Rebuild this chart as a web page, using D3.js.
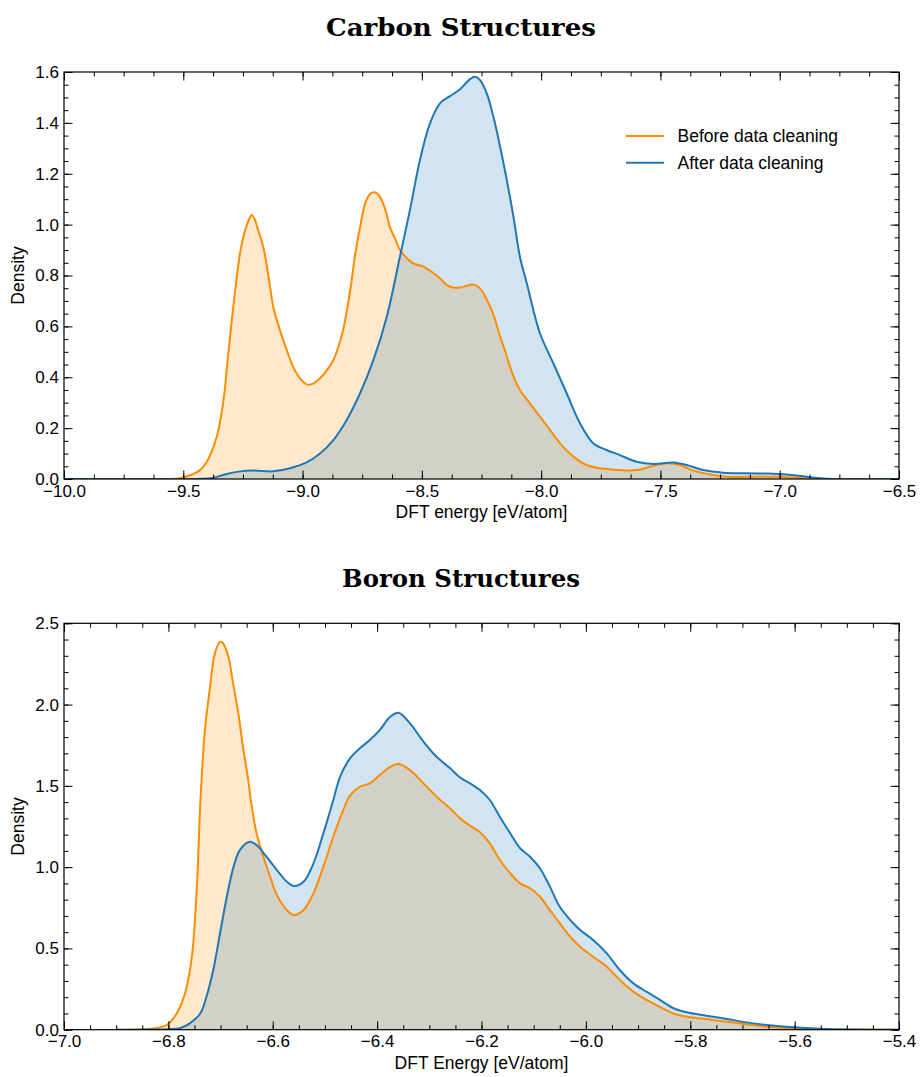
<!DOCTYPE html>
<html><head><meta charset="utf-8">
<script src="https://cdn.jsdelivr.net/npm/d3@7"></script>
<style>body{margin:0;background:#fff}svg{display:block}</style>
</head><body>
<svg id="chart" width="921" height="1077"></svg>
<script>
// ---------------- data ----------------
const seriesNames = ["Before data cleaning", "After data cleaning"];

const carbonBeforeX = [-10, -9.6, -9.52, -9.48, -9.43, -9.4, -9.36, -9.33, -9.317, -9.29, -9.26, -9.24, -9.225, -9.214, -9.2, -9.19, -9.165, -9.14, -9.123, -9.1, -9.081, -9.06, -9.039, -9.01, -8.983, -8.955, -8.927, -8.9, -8.871, -8.85, -8.83, -8.80, -8.78, -8.755, -8.735, -8.715, -8.70, -8.685, -8.668, -8.65, -8.634, -8.61, -8.592, -8.565, -8.536, -8.494, -8.452, -8.42, -8.396, -8.37, -8.34, -8.31, -8.285, -8.265, -8.245, -8.225, -8.2, -8.172, -8.15, -8.13, -8.11, -8.089, -8.047, -8.005, -7.963, -7.921, -7.865, -7.81, -7.753, -7.67, -7.6, -7.544, -7.474, -7.418, -7.362, -7.278, -7.22, -7.08, -6.999, -6.944, -6.873, -6.8, -6.5];
const carbonBeforeY = [0, 0, 0.002, 0.012, 0.035, 0.07, 0.166, 0.32, 0.44, 0.68, 0.9, 0.98, 1.02, 1.038, 1.02, 0.99, 0.913, 0.78, 0.677, 0.6, 0.546, 0.49, 0.44, 0.395, 0.372, 0.375, 0.396, 0.425, 0.468, 0.52, 0.586, 0.743, 0.88, 1.01, 1.09, 1.122, 1.127, 1.12, 1.095, 1.05, 0.99, 0.94, 0.9, 0.87, 0.848, 0.835, 0.81, 0.785, 0.763, 0.753, 0.753, 0.76, 0.765, 0.757, 0.735, 0.7, 0.645, 0.56, 0.5, 0.44, 0.39, 0.35, 0.297, 0.245, 0.193, 0.14, 0.088, 0.055, 0.042, 0.035, 0.035, 0.048, 0.062, 0.055, 0.033, 0.016, 0.009, 0.009, 0.009, 0.006, 0.002, 0, 0];

const carbonAfterX = [-10, -9.45, -9.4, -9.374, -9.318, -9.262, -9.206, -9.123, -9.053, -8.983, -8.927, -8.871, -8.815, -8.759, -8.703, -8.647, -8.592, -8.55, -8.508, -8.466, -8.424, -8.382, -8.34, -8.298, -8.277, -8.256, -8.228, -8.2, -8.172, -8.144, -8.116, -8.089, -8.06, -8.005, -7.949, -7.893, -7.837, -7.781, -7.726, -7.67, -7.6, -7.53, -7.446, -7.39, -7.32, -7.237, -7.08, -6.97, -6.887, -6.803, -6.5];
const carbonAfterY = [0, 0, 0.002, 0.005, 0.02, 0.03, 0.033, 0.03, 0.042, 0.065, 0.1, 0.153, 0.232, 0.337, 0.468, 0.638, 0.874, 1.057, 1.254, 1.398, 1.477, 1.505, 1.532, 1.572, 1.581, 1.568, 1.516, 1.424, 1.306, 1.175, 1.031, 0.874, 0.769, 0.573, 0.455, 0.337, 0.219, 0.14, 0.114, 0.094, 0.068, 0.059, 0.065, 0.055, 0.035, 0.025, 0.022, 0.018, 0.009, 0.001, 0];

const boronBeforeX = [-6.9, -6.86, -6.823, -6.803, -6.784, -6.768, -6.755, -6.745, -6.739, -6.73, -6.72, -6.711, -6.701, -6.695, -6.685, -6.676, -6.666, -6.657, -6.647, -6.642, -6.631, -6.618, -6.605, -6.592, -6.573, -6.56, -6.541, -6.522, -6.503, -6.484, -6.465, -6.452, -6.433, -6.414, -6.395, -6.375, -6.359, -6.337, -6.311, -6.286, -6.26, -6.241, -6.222, -6.203, -6.184, -6.165, -6.145, -6.126, -6.107, -6.088, -6.069, -6.05, -6.03, -6.011, -5.986, -5.96, -5.935, -5.909, -5.884, -5.858, -5.832, -5.807, -5.769, -5.73, -5.692, -5.653, -5.602, -5.538, -5.4];
const boronBeforeY = [0, 0.002, 0.009, 0.029, 0.1, 0.224, 0.449, 0.9, 1.38, 1.843, 2.11, 2.315, 2.386, 2.376, 2.294, 2.13, 1.946, 1.74, 1.536, 1.413, 1.208, 1.064, 0.941, 0.828, 0.736, 0.705, 0.736, 0.839, 1.003, 1.187, 1.351, 1.44, 1.494, 1.515, 1.566, 1.617, 1.634, 1.597, 1.515, 1.433, 1.361, 1.3, 1.255, 1.215, 1.146, 1.044, 0.962, 0.9, 0.87, 0.818, 0.736, 0.654, 0.572, 0.51, 0.449, 0.387, 0.306, 0.234, 0.183, 0.141, 0.1, 0.08, 0.066, 0.049, 0.033, 0.018, 0.009, 0.003, 0];

const boronAfterX = [-6.9, -6.83, -6.803, -6.778, -6.759, -6.739, -6.727, -6.714, -6.701, -6.688, -6.675, -6.663, -6.644, -6.631, -6.612, -6.592, -6.573, -6.56, -6.541, -6.522, -6.503, -6.484, -6.471, -6.452, -6.433, -6.414, -6.395, -6.375, -6.359, -6.337, -6.311, -6.286, -6.26, -6.241, -6.222, -6.203, -6.184, -6.165, -6.145, -6.126, -6.107, -6.088, -6.069, -6.05, -6.03, -6.011, -5.986, -5.96, -5.935, -5.909, -5.884, -5.858, -5.832, -5.807, -5.769, -5.73, -5.692, -5.653, -5.602, -5.538, -5.4];
const boronAfterY = [0, 0.001, 0.003, 0.009, 0.039, 0.1, 0.203, 0.367, 0.593, 0.818, 1.003, 1.105, 1.156, 1.136, 1.064, 0.982, 0.91, 0.884, 0.91, 1.023, 1.208, 1.413, 1.556, 1.669, 1.731, 1.782, 1.843, 1.925, 1.95, 1.884, 1.771, 1.679, 1.608, 1.551, 1.515, 1.474, 1.413, 1.31, 1.208, 1.116, 1.064, 0.993, 0.88, 0.756, 0.675, 0.613, 0.552, 0.47, 0.367, 0.285, 0.234, 0.183, 0.132, 0.107, 0.086, 0.066, 0.045, 0.029, 0.015, 0.005, 0];

const carbonXTicks = [-10, -9.5, -9, -8.5, -8, -7.5, -7, -6.5];
const carbonYTicks = [0, 0.2, 0.4, 0.6, 0.8, 1.0, 1.2, 1.4, 1.6];
const boronXTicks = [-7, -6.8, -6.6, -6.4, -6.2, -6.0, -5.8, -5.6, -5.4];
const boronYTicks = [0, 0.5, 1.0, 1.5, 2.0, 2.5];

// ---------------- styles ----------------
const colBefore = "#ff8c00", colAfter = "#1f77b4";
const FONT = "'Liberation Sans', Arial, Helvetica, sans-serif";

const svg = d3.select("#chart");
const zip = (xs, ys) => xs.map((v, i) => [v, ys[i]]);

function panel(cfg) {
  const g = svg.append("g");
  const x = d3.scaleLinear().domain(cfg.xDomain).range([cfg.left, cfg.right]);
  const y = d3.scaleLinear().domain(cfg.yDomain).range([cfg.bottom, cfg.top]);
  const curve = d3.curveCatmullRom.alpha(0.5);
  const area = d3.area().x(d => x(d[0])).y0(y(0)).y1(d => Math.min(y(0), y(d[1]))).curve(curve);
  const line = d3.line().x(d => x(d[0])).y(d => y(d[1])).curve(curve);

  const series = [
    {data: zip(cfg.bx, cfg.by), color: colBefore},
    {data: zip(cfg.ax, cfg.ay), color: colAfter}
  ];
  const clipId = "clip" + Math.round(cfg.top);
  svg.append("clipPath").attr("id", clipId).append("rect")
    .attr("x", cfg.left).attr("y", cfg.top).attr("width", cfg.right - cfg.left).attr("height", cfg.bottom - cfg.top);
  const plot = g.append("g").attr("clip-path", `url(#${clipId})`);
  series.forEach(s => plot.append("path").attr("d", area(s.data)).attr("fill", s.color).attr("fill-opacity", 0.2));
  series.forEach(s => plot.append("path").attr("d", line(s.data)).attr("fill", "none").attr("stroke", s.color).attr("stroke-width", 2));

  const fmt = d3.format(".1f");
  const [x0, x1] = cfg.xDomain, [y0, y1] = cfg.yDomain;
  const xMinor = d3.range(x0, x1 + 1e-9, cfg.xMinor).map(v => +v.toFixed(4));
  const yMinor = d3.range(y0, y1 + 1e-9, cfg.yMinor).map(v => +v.toFixed(4));
  const MAJ = 8.5, MIN = 4.5;

  function style(sel) {
    sel.select(".domain").remove();
    sel.selectAll("line").attr("stroke", "#000").attr("stroke-width", 1);
    sel.selectAll("text").attr("font-family", FONT).attr("font-size", 17).attr("fill", "#000");
  }
  // minor ticks
  g.append("g").attr("transform", `translate(0,${cfg.bottom})`).call(d3.axisBottom(x).tickValues(xMinor).tickSize(-MIN).tickFormat("")).call(style);
  g.append("g").attr("transform", `translate(0,${cfg.top})`).call(d3.axisTop(x).tickValues(xMinor).tickSize(-MIN).tickFormat("")).call(style);
  g.append("g").attr("transform", `translate(${cfg.left},0)`).call(d3.axisLeft(y).tickValues(yMinor).tickSize(-MIN).tickFormat("")).call(style);
  g.append("g").attr("transform", `translate(${cfg.right},0)`).call(d3.axisRight(y).tickValues(yMinor).tickSize(-MIN).tickFormat("")).call(style);
  // major ticks
  g.append("g").attr("transform", `translate(0,${cfg.bottom})`).call(d3.axisBottom(x).tickValues(cfg.xTicks).tickSize(-MAJ).tickPadding(5.5).tickFormat(fmt)).call(style);
  g.append("g").attr("transform", `translate(0,${cfg.top})`).call(d3.axisTop(x).tickValues(cfg.xTicks).tickSize(-MAJ).tickFormat("")).call(style);
  g.append("g").attr("transform", `translate(${cfg.left},0)`).call(d3.axisLeft(y).tickValues(cfg.yTicks).tickSize(-MAJ).tickPadding(5).tickFormat(fmt)).call(style);
  g.append("g").attr("transform", `translate(${cfg.right},0)`).call(d3.axisRight(y).tickValues(cfg.yTicks).tickSize(-MAJ).tickFormat("")).call(style);

  // frame
  g.append("rect").attr("x", cfg.left).attr("y", cfg.top).attr("width", cfg.right - cfg.left).attr("height", cfg.bottom - cfg.top)
    .attr("fill", "none").attr("stroke", "#000").attr("stroke-width", 1.2);

  // title
  svg.append("text").attr("x", 461).attr("y", cfg.titleY).attr("text-anchor", "middle")
    .attr("font-family", "'DejaVu Serif', serif").attr("font-weight", "bold").attr("font-size", 25)
    .attr("textLength", cfg.titleW).attr("lengthAdjust", "spacingAndGlyphs").attr("fill", "#000").text(cfg.title);
  // axis labels
  svg.append("text").attr("x", (cfg.left + cfg.right) / 2).attr("y", cfg.bottom + 39).attr("text-anchor", "middle")
    .attr("font-family", FONT).attr("font-size", 17.5).attr("fill", "#000").text(cfg.xLabel);
  svg.append("text").attr("transform", `translate(24,${(cfg.top + cfg.bottom) / 2}) rotate(-90)`).attr("text-anchor", "middle")
    .attr("font-family", FONT).attr("font-size", 17.5).attr("fill", "#000").text("Density");
  return {x, y};
}

panel({left: 64, right: 899, top: 72, bottom: 479, xDomain: [-10, -6.5], yDomain: [0, 1.6],
  xTicks: carbonXTicks, yTicks: carbonYTicks, xMinor: 0.125, yMinor: 0.05,
  bx: carbonBeforeX, by: carbonBeforeY, ax: carbonAfterX, ay: carbonAfterY,
  title: "Carbon Structures", titleY: 36, titleW: 270, xLabel: "DFT energy [eV/atom]"});

panel({left: 64, right: 899, top: 623.3, bottom: 1029.7, xDomain: [-7, -5.4], yDomain: [0, 2.5],
  xTicks: boronXTicks, yTicks: boronYTicks, xMinor: 0.05, yMinor: 0.1,
  bx: boronBeforeX, by: boronBeforeY, ax: boronAfterX, ay: boronAfterY,
  title: "Boron Structures", titleY: 586.7, titleW: 238, xLabel: "DFT Energy [eV/atom]"});

// legend
const legend = svg.append("g");
[colBefore, colAfter].forEach((c, i) => {
  const ly = 136 + i * 26.7;
  legend.append("line").attr("x1", 626).attr("x2", 664).attr("y1", ly).attr("y2", ly).attr("stroke", c).attr("stroke-width", 2);
  legend.append("text").attr("x", 677.5).attr("y", ly).attr("dy", "0.35em").attr("font-family", FONT).attr("font-size", 17.5)
    .attr("fill", "#000").text(seriesNames[i]);
});
</script>
</body></html>
